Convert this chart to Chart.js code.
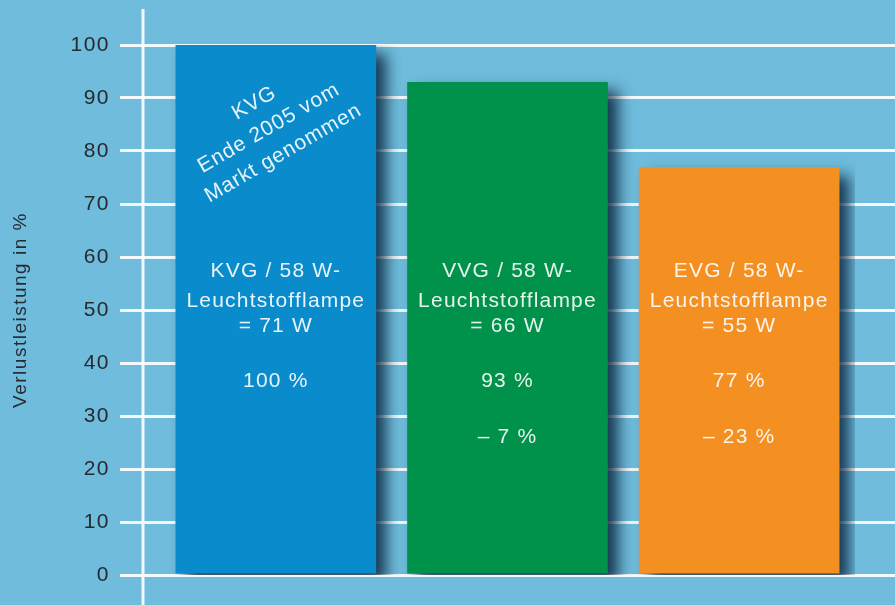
<!DOCTYPE html>
<html>
<head>
<meta charset="utf-8">
<script src="https://cdn.jsdelivr.net/npm/chart.js@4"></script>
<style>
  html, body { margin: 0; padding: 0; background: #6fbcdc; }
  #wrap { width: 895px; height: 605px; }
</style>
</head>
<body>
<div id="wrap"><canvas id="barChart"></canvas></div>
<script>
// data
var categories = ['KVG', 'VVG', 'EVG'];
var lossValues = [100, 93, 77];
var barColors = ['#0a8bcb', '#00914a', '#f39021'];
var yTicks = [0, 10, 20, 30, 40, 50, 60, 70, 80, 90, 100];

// texts inside the bars
var typeLines = [
    ['KVG / 58 W-', 'Leuchtstofflampe', '= 71 W'],
    ['VVG / 58 W-', 'Leuchtstofflampe', '= 66 W'],
    ['EVG / 58 W-', 'Leuchtstofflampe', '= 55 W']
];
var pctLabels = ['100 %', '93 %', '77 %'];
var diffLabels = ['', '\u2013 7 %', '\u2013 23 %'];
var noteLines = ['KVG', 'Ende 2005 vom', 'Markt genommen'];

var FONT = '"Liberation Sans", Arial, Helvetica, sans-serif';

// canvas state gets reset on resize, so keep setting the letter spacing
var spacingPlugin = {
    id: 'spacing',
    beforeLayout: function (chart) { chart.ctx.letterSpacing = '1.5px'; },
    beforeDraw: function (chart) { chart.ctx.letterSpacing = '1.5px'; }
};

// vertical white axis line + bar shadow
var decoPlugin = {
    id: 'deco',
    beforeDatasetsDraw: function (chart) {
        var ctx = chart.ctx;
        var x = chart.chartArea.left - 17;
        ctx.save();
        ctx.strokeStyle = 'rgba(255,255,255,0.9)';
        ctx.lineWidth = 3;
        ctx.beginPath();
        ctx.moveTo(x, 9);
        ctx.lineTo(x, chart.height);
        ctx.stroke();
        ctx.restore();

        ctx.save();
        ctx.shadowColor = 'rgba(5,30,55,0.85)';
        ctx.shadowBlur = 14;
        ctx.shadowOffsetX = 10;
        ctx.shadowOffsetY = 9;
    },
    afterDatasetsDraw: function (chart) {
        chart.ctx.restore();
    }
};

var textPlugin = {
    id: 'barTexts',
    afterDatasetsDraw: function (chart) {
        var ctx = chart.ctx;
        var y = chart.scales.y;
        var bars = chart.getDatasetMeta(0).data;
        ctx.save();
        ctx.letterSpacing = '1.2px';
        ctx.fillStyle = 'rgba(255,255,255,0.9)';
        ctx.textAlign = 'center';
        ctx.textBaseline = 'middle';
        ctx.font = '21px ' + FONT;
        var rows = [57.3, 51.6, 46.9];
        bars.forEach(function (bar, i) {
            typeLines[i].forEach(function (t, k) {
                ctx.fillText(t, bar.x, y.getPixelForValue(rows[k]));
            });
            ctx.fillText(pctLabels[i], bar.x, y.getPixelForValue(36.6));
            if (diffLabels[i]) ctx.fillText(diffLabels[i], bar.x, y.getPixelForValue(26.0));
        });

        // rotated note on the first bar
        var b0 = bars[0];
        ctx.translate(b0.x - 7, y.getPixelForValue(84.3));
        ctx.rotate(-30 * Math.PI / 180);
        ctx.font = '21px ' + FONT;
        ctx.letterSpacing = '1px';
        noteLines.forEach(function (t, k) {
            ctx.fillText(t, 0, (k - 1) * 29);
        });
        ctx.restore();
    }
};

var ctx = document.getElementById('barChart').getContext('2d');
var barChart = new Chart(ctx, {
    type: 'bar',
    data: {
        labels: categories,
        datasets: [{
            data: lossValues,
            backgroundColor: barColors,
            borderWidth: 0,
            categoryPercentage: 0.866,
            barPercentage: 1
        }]
    },
    options: {
        responsive: true,
        maintainAspectRatio: false,
        animation: false,
        events: [],
        layout: { padding: { top: 45, bottom: 30, left: 0, right: 0 } },
        plugins: {
            legend: { display: false },
            tooltip: { enabled: false }
        },
        scales: {
            x: { display: false },
            y: {
                min: 0,
                max: 100,
                afterFit: function (s) { s.width = 160; },
                afterBuildTicks: function (s) { s.ticks = yTicks.map(function (v) { return { value: v }; }); },
                border: { display: false },
                grid: { color: 'rgba(255,255,255,0.9)', lineWidth: 3, tickLength: 40, tickColor: 'rgba(255,255,255,0.9)' },
                ticks: { color: '#262b30', padding: 10, font: { family: FONT, size: 21 } },
                title: {
                    display: true,
                    text: 'Verlustleistung in %',
                    color: '#262b30',
                    padding: { top: 9, bottom: 0 },
                    font: { family: FONT, size: 19 }
                }
            },
            y2: {
                position: 'right',
                min: 0,
                max: 100,
                afterFit: function (s) { s.width = 40; },
                afterBuildTicks: function (s) { s.ticks = yTicks.map(function (v) { return { value: v }; }); },
                border: { display: false },
                grid: { drawOnChartArea: false, lineWidth: 3, tickLength: 40, tickColor: 'rgba(255,255,255,0.9)' },
                ticks: { display: false }
            }
        }
    },
    plugins: [spacingPlugin, decoPlugin, textPlugin]
});
</script>
</body>
</html>
